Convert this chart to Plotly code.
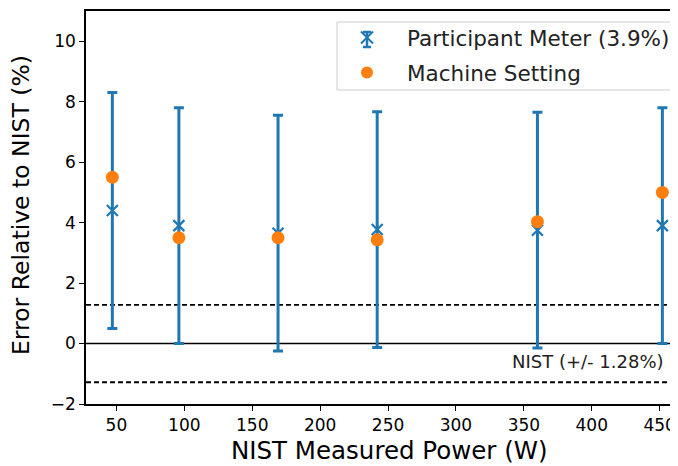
import plotly.graph_objects as go

power_w = [47, 96, 169, 242, 360, 452]
participant_err = [4.4, 3.9, 3.65, 3.77, 3.75, 3.9]
participant_unc = [3.9, 3.9, 3.9, 3.9, 3.9, 3.9]
machine_err = [5.5, 3.5, 3.5, 3.43, 4.03, 5.0]
nist_unc = 1.28
x_ticks = [50, 100, 150, 200, 250, 300, 350, 400, 450]
y_ticks = [-2, 0, 2, 4, 6, 8, 10]
y_ticktext = ["\u22122", "0", "2", "4", "6", "8", "10"]

BLUE = "#1f77b4"
ORANGE = "#ff7f0e"
FONT = "DejaVu Sans"

# page geometry (the page body adds an 8px offset)
PL, PR, PT, PB = 86.0, 678.0, 11.0, 404.0
PW, PH = PR - PL, PB - PT


def px(xp):
    return (xp - PL) / PW


def py(yp):
    return (PB - yp) / PH


fig = go.Figure()

fig.add_trace(go.Scatter(
    x=power_w, y=participant_err, mode="markers",
    name="Participant Meter (3.9%)", legendgroup="a",
    marker=dict(symbol="x-thin", size=11, color=BLUE, line=dict(color=BLUE, width=2.2)),
    error_y=dict(type="data", array=participant_unc, visible=True,
                 color=BLUE, thickness=3, width=5),
))
fig.add_trace(go.Scatter(
    x=power_w, y=machine_err, mode="markers",
    name="Machine Setting", legendgroup="b",
    marker=dict(symbol="circle", size=13, color=ORANGE),
))

# reference lines
fig.add_hline(y=0, line=dict(color="black", width=1.5), layer="below")
fig.add_hline(y=nist_unc, line=dict(color="black", width=1.8, dash="5px,3px"), layer="below")
fig.add_hline(y=-nist_unc, line=dict(color="black", width=1.8, dash="5px,3px"), layer="below")

fig.add_annotation(x=1.0, xref="paper", xanchor="right", xshift=-12,
                   y=-0.58, yref="y", text="NIST (+/- 1.28%)", showarrow=False,
                   font=dict(family=FONT, size=18, color="#222"))

# legend frame and error-bar glyph (matplotlib style)
fig.add_shape(type="rect", xref="paper", yref="paper",
              x0=px(337), x1=px(677), y0=py(90), y1=py(22),
              line=dict(color="#cccccc", width=1), fillcolor="rgba(255,255,255,0.8)",
              layer="above")
fig.add_shape(type="line", xref="paper", yref="paper",
              x0=px(367), x1=px(367), y0=py(47), y1=py(32),
              line=dict(color=BLUE, width=2.5), layer="above")
for yy in (32, 47):
    fig.add_shape(type="line", xref="paper", yref="paper",
                  x0=px(363), x1=px(371), y0=py(yy), y1=py(yy),
                  line=dict(color=BLUE, width=2.5), layer="above")

# axis titles
fig.add_annotation(x=px(389.5), y=py(450), xref="paper", yref="paper",
                   xanchor="center", yanchor="middle", showarrow=False,
                   text="NIST Measured Power (W)", font=dict(family=FONT, size=24.5, color="black"))
fig.add_annotation(x=px(21), y=py(205), xref="paper", yref="paper",
                   xanchor="center", yanchor="middle", showarrow=False, textangle=-90,
                   text="Error Relative to NIST (%)", font=dict(family=FONT, size=23.5, color="black"))

fig.update_layout(
    width=670, height=458,
    margin=dict(l=78, r=0, t=3, b=62),
    paper_bgcolor="white", plot_bgcolor="white",
    font=dict(family=FONT, color="black"),
    showlegend=True,
    legend=dict(x=px(327), y=py(17), xanchor="left", yanchor="top",
                bgcolor="rgba(0,0,0,0)", borderwidth=0,
                font=dict(family=FONT, size=21.5, color="#222"),
                itemwidth=70, itemsizing="constant", tracegroupgap=4,
                traceorder="grouped"),
    xaxis=dict(range=[27.6, 463.5], tickvals=x_ticks, ticks="outside", ticklen=5,
               tickcolor="black", showline=True, linecolor="black", linewidth=1.5,
               mirror=True, showgrid=False, zeroline=False,
               tickfont=dict(family=FONT, size=17)),
    yaxis=dict(range=[-2, 11], tickvals=y_ticks, ticktext=y_ticktext,
               ticks="outside", ticklen=5, tickcolor="black",
               showline=True, linecolor="black", linewidth=1.5, showgrid=False, zeroline=False,
               tickfont=dict(family=FONT, size=17)),
)

fig.write_html("out.html")
